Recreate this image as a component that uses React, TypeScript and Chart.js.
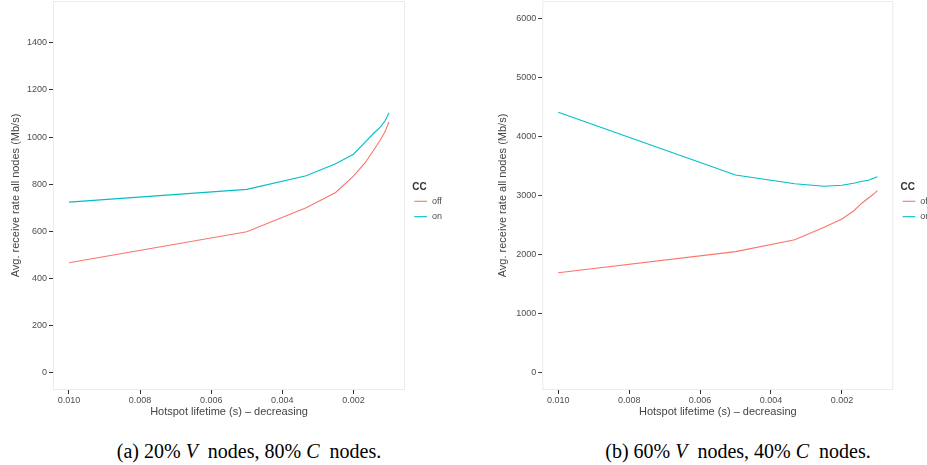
import React, { useEffect, useRef } from "react";
import { Chart, registerables } from "chart.js";

Chart.register(...registerables);

// ---- data ----
const lifetimes = [0.01, 0.005, 0.00333, 0.0025, 0.002, 0.00167, 0.00143, 0.00125, 0.00111, 0.001];

const leftOff = [467, 598, 700, 765, 834, 891, 945, 986, 1023, 1065];
const leftOn = [724, 778, 836, 887, 927, 978, 1016, 1041, 1069, 1103];

const rightOff = [1696, 2053, 2256, 2466, 2607, 2743, 2879, 2964, 3026, 3088];
const rightOn = [4417, 3354, 3206, 3162, 3179, 3213, 3247, 3264, 3298, 3325];

const xTicks = [0.01, 0.008, 0.006, 0.004, 0.002];
const leftYTicks = [0, 200, 400, 600, 800, 1000, 1200, 1400];
const rightYTicks = [0, 1000, 2000, 3000, 4000, 5000, 6000];

const seriesNames = ["off", "on"];
const seriesColors = ["#F8766D", "#00BFC4"];
const legendTitle = "CC";
const xTitle = "Hotspot lifetime (s) \u2013 decreasing";
const yTitle = "Avg. receive rate all nodes (Mb/s)";

const FONT = "'Liberation Sans', Arial, Helvetica, sans-serif";

type PanelProps = {
  width: number;
  height: number;
  plotLeft: number;
  plotRight: number;
  yTitleX: number;
  yMin: number;
  yMax: number;
  yTicks: number[];
  off: number[];
  on: number[];
};

function Panel(p: PanelProps) {
  const ref = useRef<HTMLCanvasElement | null>(null);
  useEffect(() => {
    if (!ref.current) return;
    const toPts = (vals: number[]) => lifetimes.map((x, i) => ({ x, y: vals[i] }));
    const zeroPad = (s: any) => {
      s.paddingTop = 0;
      s.paddingBottom = 0;
      s.paddingLeft = 0;
      s.paddingRight = 0;
    };
    const borderPlugin = {
      id: "panelBorder",
      beforeDatasetsDraw(chart: any) {
        const { ctx, chartArea: a } = chart;
        ctx.save();
        ctx.strokeStyle = "#ebebeb";
        ctx.lineWidth = 1;
        ctx.strokeRect(a.left + 0.5, a.top + 0.5, a.right - a.left - 1, a.bottom - a.top - 1);
        ctx.restore();
      },
    };
    const legendPlugin = {
      id: "ggLegend",
      afterDraw(chart: any) {
        const { ctx, chartArea: a } = chart;
        const x0 = a.right;
        ctx.save();
        ctx.textBaseline = "middle";
        ctx.textAlign = "left";
        ctx.fillStyle = "#333333";
        ctx.font = `bold 10px ${FONT}`;
        ctx.fillText(legendTitle, x0 + 7.3, 187);
        const ys = [201.3, 216.7];
        seriesNames.forEach((n, i) => {
          ctx.strokeStyle = seriesColors[i];
          ctx.lineWidth = 1.1;
          ctx.beginPath();
          ctx.moveTo(x0 + 9.3, ys[i]);
          ctx.lineTo(x0 + 22, ys[i]);
          ctx.stroke();
          ctx.fillStyle = "#4d4d4d";
          ctx.font = `9px ${FONT}`;
          ctx.fillText(n, x0 + 27, ys[i]);
        });
        ctx.restore();
      },
    };
    const chart = new Chart(ref.current, {
      type: "line",
      data: {
        datasets: [
          {
            label: seriesNames[0],
            data: toPts(p.off),
            borderColor: seriesColors[0],
            backgroundColor: seriesColors[0],
            borderWidth: 1.1,
            pointRadius: 0,
            tension: 0,
          },
          {
            label: seriesNames[1],
            data: toPts(p.on),
            borderColor: seriesColors[1],
            backgroundColor: seriesColors[1],
            borderWidth: 1.1,
            pointRadius: 0,
            tension: 0,
          },
        ],
      },
      options: {
        animation: false,
        responsive: false,
        maintainAspectRatio: false,
        layout: { padding: { top: 1, left: 0, bottom: 0, right: p.width - p.plotRight } },
        plugins: { legend: { display: false }, tooltip: { enabled: false } },
        scales: {
          x: {
            type: "linear",
            reverse: true,
            min: 0.00055,
            max: 0.01045,
            afterBuildTicks: (s: any) => {
              s.ticks = xTicks.map((v) => ({ value: v }));
            },
            afterFit: (s: any) => {
              s.height = p.height - 390;
              zeroPad(s);
            },
            border: { display: false },
            grid: {
              drawOnChartArea: false,
              drawTicks: true,
              tickLength: 4,
              color: "#333333",
              tickColor: "#333333",
            },
            ticks: {
              callback: (v: any) => Number(v).toFixed(3),
              font: { size: 9, family: FONT },
              color: "#4d4d4d",
              padding: 1,
              maxRotation: 0,
              autoSkip: false,
            },
            title: {
              display: true,
              text: xTitle,
              color: "#444444",
              font: { size: 11, family: FONT },
              padding: { top: 0, bottom: 1.7 },
            },
          },
          y: {
            type: "linear",
            min: p.yMin,
            max: p.yMax,
            afterBuildTicks: (s: any) => {
              s.ticks = p.yTicks.map((v) => ({ value: v }));
            },
            afterFit: (s: any) => {
              s.width = p.plotLeft;
              zeroPad(s);
            },
            border: { display: false },
            grid: {
              drawOnChartArea: false,
              drawTicks: true,
              tickLength: 4,
              color: "#333333",
              tickColor: "#333333",
            },
            ticks: {
              callback: (v: any) => String(v),
              font: { size: 9, family: FONT },
              color: "#4d4d4d",
              padding: 2,
              autoSkip: false,
            },
            title: {
              display: true,
              text: yTitle,
              color: "#444444",
              font: { size: 11, family: FONT },
              padding: { top: p.yTitleX - 6.6, bottom: 0 },
            },
          },
        },
      } as any,
      plugins: [borderPlugin, legendPlugin],
    });
    return () => chart.destroy();
  }, []);
  return <canvas ref={ref} width={p.width} height={p.height} style={{ width: p.width, height: p.height, display: "block" }} />;
}

const captionStyle: React.CSSProperties = {
  position: "absolute",
  top: 441,
  fontFamily: "'Liberation Serif', 'Times New Roman', serif",
  fontSize: 20,
  lineHeight: "20px",
  color: "#000",
  whiteSpace: "nowrap",
  transform: "translateX(-50%)",
};

export default function App() {
  return (
    <div style={{ position: "fixed", left: 0, top: 0, width: 927, height: 465, background: "#fff", overflow: "hidden" }}>
      <div style={{ position: "absolute", left: 0, top: 0 }}>
        <Panel width={460} height={420} plotLeft={53} plotRight={405} yTitleX={16} yMin={-73} yMax={1577} yTicks={leftYTicks} off={leftOff} on={leftOn} />
      </div>
      <div style={{ position: "absolute", left: 460, top: 0 }}>
        <Panel width={467} height={420} plotLeft={82.3} plotRight={433.3} yTitleX={43.3} yMin={-294} yMax={6305} yTicks={rightYTicks} off={rightOff} on={rightOn} />
      </div>
      <div style={{ ...captionStyle, left: 249 }}>
        (a) 20% <i>V</i>&nbsp; nodes, 80% <i>C</i>&nbsp; nodes.
      </div>
      <div style={{ ...captionStyle, left: 738 }}>
        (b) 60% <i>V</i>&nbsp; nodes, 40% <i>C</i>&nbsp; nodes.
      </div>
    </div>
  );
}
